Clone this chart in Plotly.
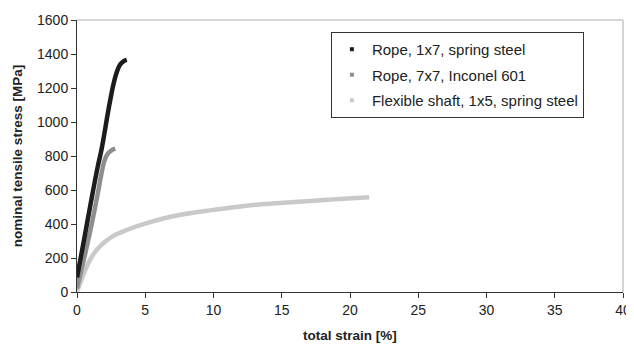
import plotly.graph_objects as go

# Rope, 1x7, spring steel
rope17_strain = [0.0, 0.5, 1.0, 1.5, 1.8, 2.04, 2.19, 2.45, 2.67, 2.9, 3.16, 3.4, 3.65]
rope17_stress = [85, 300, 520, 730, 840, 948, 1020, 1135, 1222, 1290, 1338, 1357, 1365]

# Rope, 7x7, Inconel 601
rope77_strain = [0.0, 0.5, 1.0, 1.5, 1.8, 2.0, 2.2, 2.5, 2.8]
rope77_stress = [20, 190, 370, 570, 700, 770, 808, 832, 843]

# Flexible shaft, 1x5, spring steel
shaft_strain = [0.0, 0.2, 0.49, 0.8, 1.22, 1.6, 1.95, 2.6, 3.65, 5.11, 7.3, 9.98, 12.4, 14.85, 17.3, 19.5, 21.4]
shaft_stress = [5, 45, 107, 165, 225, 262, 288, 327, 365, 405, 450, 483, 508, 523, 537, 548, 557]

names = ["Rope, 1x7, spring steel", "Rope, 7x7, Inconel 601", "Flexible shaft, 1x5, spring steel"]
colors = ["#1c1c1c", "#8e8e8e", "#c9c9c9"]

x_ticks = [0, 5, 10, 15, 20, 25, 30, 35, 40]
y_ticks = [0, 200, 400, 600, 800, 1000, 1200, 1400, 1600]

fig = go.Figure()
series = [(rope17_strain, rope17_stress), (rope77_strain, rope77_stress), (shaft_strain, shaft_stress)]
# draw light first so darker curves are on top
for i in [2, 1, 0]:
    xs, ys = series[i]
    fig.add_trace(go.Scatter(x=xs, y=ys, mode="lines", line=dict(color=colors[i], width=4.5, shape="spline"),
                             showlegend=False, hoverinfo="skip"))
for i in range(3):
    fig.add_trace(go.Scatter(x=[None], y=[None], mode="markers", name=names[i],
                             marker=dict(symbol="square", size=4, color=colors[i]),
                             legendgroup=str(i)))

font = "Arial, Liberation Sans, sans-serif"
# the page body has an 8px default margin, so the figure is 8px smaller
fig.update_layout(
    template="none",
    width=626, height=340,
    margin=dict(l=69, r=11, t=12, b=56, autoexpand=False),
    paper_bgcolor="white", plot_bgcolor="white",
    font=dict(family=font, size=14, color="#222"),
    showlegend=True,
    legend=dict(x=0.465, y=0.956, xanchor="left", yanchor="top",
                bordercolor="#333", borderwidth=1, bgcolor="white",
                font=dict(size=15, color="#222"), traceorder="grouped", tracegroupgap=3,
                itemwidth=30),
    xaxis=dict(range=[0, 40], tickvals=x_ticks, ticks="outside", ticklen=5, tickcolor="#333",
               showline=True, linecolor="#333", linewidth=1, showgrid=False, zeroline=False,
               automargin=False, tickfont=dict(size=14),
               title=dict(text="<b>total strain [%]</b>", font=dict(size=13.5, color="#222"), standoff=13)),
    yaxis=dict(range=[0, 1600], tickvals=y_ticks, ticks="outside", ticklen=5, tickcolor="#333",
               showline=True, linecolor="#333", linewidth=1, showgrid=False, zeroline=False,
               automargin=False, tickfont=dict(size=14),
               title=dict(text="<b>nominal tensile stress [MPa]</b>", font=dict(size=13.5, color="#222"), standoff=11)),
    shapes=[
        dict(type="line", xref="paper", yref="paper", x0=0, x1=1, y0=1, y1=1, line=dict(color="#aaa", width=1)),
        dict(type="line", xref="paper", yref="paper", x0=1, x1=1, y0=0, y1=1, line=dict(color="#aaa", width=1)),
    ],
)
fig.write_html("out.html")
